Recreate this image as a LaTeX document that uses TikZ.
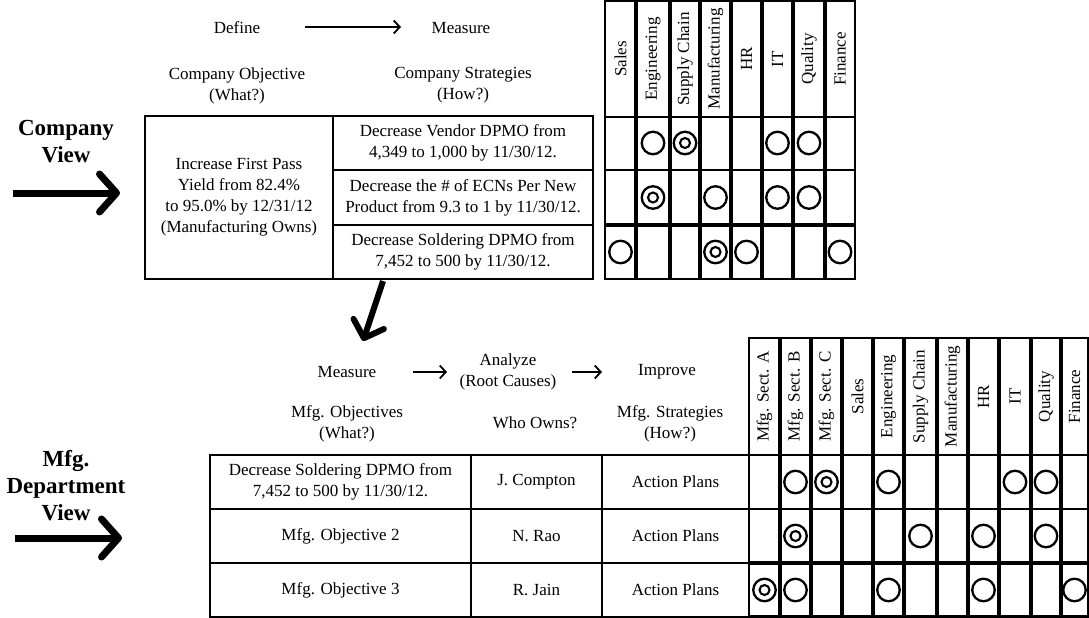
\documentclass[tikz,border=0pt]{standalone}
\usepackage{fontspec}
\setmainfont{Liberation Serif}
\usetikzlibrary{arrows.meta}
\begin{document}
\begin{tikzpicture}[x=1pt,y=-1pt,
  txt/.style={font=\fontsize{17}{21}\selectfont, align=center, inner sep=0pt},
  big/.style={font=\fontsize{23}{27}\selectfont\bfseries, align=center, inner sep=0pt},
  frame/.style={draw, line width=2.6pt},
  cell/.style={frame, txt},
  hdr/.style={txt, rotate=90},
  grid rule/.style={line width=3.4pt},
  row rule/.style={line width=2.2pt},
  ring/.style={circle, draw, line width=2.3pt, minimum size=22.5pt, inner sep=0pt},
  bullseye/.style={ring, path picture={\draw[line width=2.1pt] (path picture bounding box.center) circle (5pt);}},
  bigarrow/.style={line width=7pt, -{Straight Barb[length=17pt,width=38pt,round]}},
  slantarrow/.style={line width=6pt, -{Straight Barb[length=15pt,width=32pt,round]}},
  thinarrow/.style={line width=1.8pt, -{Straight Barb[length=6pt,width=13pt]}},
]
\useasboundingbox (0,0) rectangle (1089,618);

% ---------------- company view ----------------
\node[big] (cview) at (66,142) {Company\\View};
\coordinate (cview-from) at (13,193);
\coordinate (cview-to) at (120,193);
\draw[bigarrow] (cview-from) -- (cview-to);

\node[txt] (define) at (237,28) {Define};
\node[txt] (measure-top) at (461,28) {Measure};
\coordinate (dm-from) at (305,27);
\coordinate (dm-to) at (401,27);
\draw[thinarrow] (dm-from) -- (dm-to);

\node[txt] (cobj) at (237,85.5) {Company Objective\\(What?)};
\node[txt] (cstrat) at (463,85.5) {Company Strategies\\(How?)};

\node[cell, minimum width=188pt, minimum height=163pt] (objective) at (239,197.5)
  {Increase First Pass\\Yield from 82.4\%\\to 95.0\% by 12/31/12\\(Manufacturing Owns)};
\node[cell, minimum width=260pt, minimum height=54pt] (strat1) at (463,143)
  {Decrease Vendor DPMO from\\4,349 to 1,000 by 11/30/12.};
\node[cell, minimum width=260pt, minimum height=55pt] (strat2) at (463,197.5)
  {Decrease the \# of ECNs Per New\\Product from 9.3 to 1 by 11/30/12.};
\node[cell, minimum width=260pt, minimum height=54pt] (strat3) at (463,252)
  {Decrease Soldering DPMO from\\7,452 to 500 by 11/30/12.};

% company function grid
\draw[frame] (605,1) rectangle (855,279);
\foreach \x in {636,670,700,731,762,793,825} \draw[grid rule] (\x,1) -- (\x,279);
\draw[row rule] (605,117) -- (855,117);
\draw[row rule] (605,170) -- (855,170);
\draw[grid rule] (605,225) -- (855,225);

\foreach \n/\x/\t in {sales/620.5/Sales, eng/653/Engineering, sc/685/Supply Chain,
  mfg/715.5/Manufacturing, hr/746.5/HR, it/777.5/IT, qual/809/Quality, fin/840/Finance}
  \node[hdr] (th-\n) at (\x,59) {\t};

\foreach \n/\x/\y/\k in {
  r1a/653/143/ring, r1b/685/143/bullseye, r1c/777.5/143/ring, r1d/809/143/ring,
  r2a/653/197.5/bullseye, r2b/715.5/197.5/ring, r2c/777.5/197.5/ring, r2d/809/197.5/ring,
  r3a/620.5/252/ring, r3b/715.5/252/bullseye, r3c/746.5/252/ring, r3d/840/252/ring}
  \node[\k] (top-\n) at (\x,\y) {};

% drill-down arrow
\coordinate (drill-from) at (383,281);
\coordinate (drill-to) at (363,341);
\draw[slantarrow] (drill-from) -- (drill-to);

% ---------------- department view ----------------
\node[big] (mview) at (66,485.5) {Mfg.\\Department\\View};
\coordinate (mview-from) at (15,538);
\coordinate (mview-to) at (122,538);
\draw[bigarrow] (mview-from) -- (mview-to);

\node[txt] (measure-low) at (347,372) {Measure};
\node[txt] (analyze) at (508,372) {Analyze\\(Root Causes)};
\node[txt] (improve) at (667,372) {Improve};
\coordinate (ma-from) at (413,372);
\coordinate (ma-to) at (447,372);
\coordinate (ai-from) at (572,372);
\coordinate (ai-to) at (602,372);
\draw[thinarrow] (ma-from) -- (ma-to);
\draw[thinarrow] (ai-from) -- (ai-to);

\node[txt] (mobj) at (347,423.5) {Mfg. Objectives\\(What?)};
\node[txt] (owner) at (535,423) {Who Owns?};
\node[txt] (mstrat) at (670,423.5) {Mfg. Strategies\\(How?)};

\foreach \r/\y/\obj/\who in {1/482/{Decrease Soldering DPMO from\\7,452 to 500 by 11/30/12.}/J. Compton,
  2/536/Mfg. Objective 2/N. Rao, 3/590/Mfg. Objective 3/R. Jain}{
  \node[cell, minimum width=261pt, minimum height=54pt] (mobj-\r) at (340.5,\y) {\obj};
  \node[cell, minimum width=131pt, minimum height=54pt] (mown-\r) at (536.5,\y) {\who};
  \node[cell, minimum width=147pt, minimum height=54pt] (mplan-\r) at (675.5,\y) {Action Plans};
}

% department function grid
\draw[frame] (749,338) rectangle (1088,616.5);
\foreach \x in {780,811,842,873,904,937,968,999,1031,1061} \draw[grid rule] (\x,338) -- (\x,616.5);
\draw[row rule] (749,455) -- (1088,455);
\draw[row rule] (749,509) -- (1088,509);
\draw[grid rule] (749,563) -- (1088,563);

\foreach \n/\x/\t in {sa/764.5/Mfg. Sect. A, sb/795.5/Mfg. Sect. B, scc/826.5/Mfg. Sect. C,
  sales/857.5/Sales, eng/888.5/Engineering, sc/920.5/Supply Chain, mfg/952.5/Manufacturing,
  hr/983.5/HR, it/1015/IT, qual/1046/Quality, fin/1074.5/Finance}
  \node[hdr] (bh-\n) at (\x,396.5) {\t};

\foreach \n/\x/\y/\k in {
  r1a/795.5/482/ring, r1b/826.5/482/bullseye, r1c/888.5/482/ring, r1d/1015/482/ring, r1e/1046/482/ring,
  r2a/795.5/536/bullseye, r2b/920.5/536/ring, r2c/983.5/536/ring, r2d/1046/536/ring,
  r3a/764.5/590/bullseye, r3b/795.5/590/ring, r3c/888.5/590/ring, r3d/983.5/590/ring, r3e/1074.5/590/ring}
  \node[\k] (low-\n) at (\x,\y) {};
\end{tikzpicture}
\end{document}
